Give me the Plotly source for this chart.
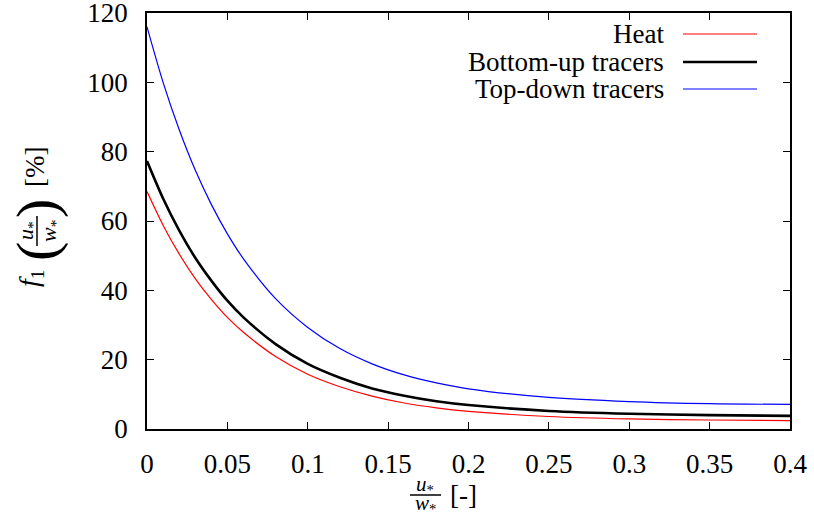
import plotly.graph_objects as go

# ---- data ----
x_vals = [0, 0.01, 0.02, 0.03, 0.04, 0.05, 0.06, 0.08, 0.10, 0.12, 0.14,
          0.16, 0.18, 0.20, 0.25, 0.30, 0.35, 0.40]
heat = [68.5, 58.8, 50.5, 43.4, 37.4, 32.2, 27.9, 20.9, 15.8, 12.2, 9.5,
        7.5, 6.1, 5.1, 3.6, 2.9, 2.6, 2.4]
bottom_up = [77.3, 66.5, 57.3, 49.4, 42.8, 37.0, 32.2, 24.5, 18.8, 14.8, 11.7,
             9.6, 8.0, 6.9, 5.2, 4.4, 4.0, 3.8]
top_down = [116.0, 100.0, 86.4, 74.7, 64.8, 56.3, 49.1, 37.6, 29.3, 23.2, 18.8,
            15.6, 13.3, 11.6, 9.1, 7.9, 7.3, 7.1]

series_names = ["Heat", "Bottom-up tracers", "Top-down tracers"]
series_data = [heat, bottom_up, top_down]
series_colors = ["#ff0000", "#000000", "#0000ff"]
series_widths = [1.2, 2.6, 1.2]

x_ticks = [0, 0.05, 0.1, 0.15, 0.2, 0.25, 0.3, 0.35, 0.4]
y_ticks = [0, 20, 40, 60, 80, 100, 120]

FONT = "Liberation Serif, Times New Roman, Times, DejaVu Serif, serif"
W, H = 814, 517
L, R, T, B = 147, 24, 13, 88
PW, PH = W - L - R, H - T - B


def px(xp):
    return (xp - L) / PW


def py(yp):
    return (H - B - yp) / PH


fig = go.Figure()
for name, data, col, lw in zip(series_names, series_data, series_colors, series_widths):
    fig.add_trace(go.Scatter(x=x_vals, y=data, mode="lines", name=name,
                             line=dict(color=col, width=lw, shape="spline", smoothing=0.8),
                             showlegend=False))

axis_common = dict(showgrid=False, zeroline=False, showline=True, linecolor="black",
                   linewidth=1.5, mirror="ticks", ticks="inside", ticklen=7, tickwidth=1,
                   tickcolor="black", ticklabeloverflow="allow", automargin=False,
                   tickfont=dict(family=FONT, size=27, color="black"))

fig.update_xaxes(range=[0, 0.4], tickvals=x_ticks,
                 ticktext=[("%g" % v) for v in x_ticks], ticklabelstandoff=10, **axis_common)
fig.update_yaxes(range=[0, 120], tickvals=y_ticks,
                 ticktext=[str(v) for v in y_ticks], ticklabelstandoff=12, **axis_common)

annotations = []
shapes = []

# legend (text right-aligned, sample line on right)
rows_y = [34, 62, 89]
for name, col, lw, ry in zip(series_names, series_colors, series_widths, rows_y):
    annotations.append(dict(xref="paper", yref="paper", x=px(666), y=py(ry),
                            xanchor="right", yanchor="middle", showarrow=False,
                            text=name, font=dict(family=FONT, size=27, color="black")))
    shapes.append(dict(type="line", xref="paper", yref="paper",
                       x0=px(683), x1=px(757), y0=py(ry), y1=py(ry),
                       line=dict(color=col, width=lw)))

# y-axis label: f1 (u*/w*) [%], rotated
ylab_parts = [
    ("<i>f</i><sub>1</sub>", 30, 278, 28),
    ("(", 36, 252, 58),
    ("<i>u</i><sub>*</sub>", 27, 231, 22),
    ("<i>w</i><sub>*</sub>", 50, 231, 22),
    (")", 36, 209, 58),
    ("[%]", 35, 167, 27),
]
for txt, xx, yy, fs in ylab_parts:
    annotations.append(dict(xref="paper", yref="paper", x=px(xx), y=py(yy),
                            xanchor="center", yanchor="middle", showarrow=False,
                            textangle=-90, text=txt,
                            font=dict(family=FONT, size=fs, color="black")))
shapes.append(dict(type="line", xref="paper", yref="paper",
                   x0=px(37), x1=px(37), y0=py(246), y1=py(216),
                   line=dict(color="black", width=1.5)))

# x-axis label: u*/w* [-]
xlab_parts = [
    ("<i>u</i><sub>*</sub>", 425, 485, 21),
    ("<i>w</i><sub>*</sub>", 425, 504, 21),
    ("[-]", 463, 495, 27),
]
for txt, xx, yy, fs in xlab_parts:
    annotations.append(dict(xref="paper", yref="paper", x=px(xx), y=py(yy),
                            xanchor="center", yanchor="middle", showarrow=False,
                            text=txt, font=dict(family=FONT, size=fs, color="black")))
shapes.append(dict(type="line", xref="paper", yref="paper",
                   x0=px(410), x1=px(441), y0=py(495), y1=py(495),
                   line=dict(color="black", width=1.5)))

fig.update_layout(width=W, height=H, margin=dict(l=L, r=R, t=T, b=B, autoexpand=False),
                  plot_bgcolor="white", paper_bgcolor="white",
                  font=dict(family=FONT, color="black"),
                  annotations=annotations, shapes=shapes, showlegend=False)

fig.write_html("out.html")
